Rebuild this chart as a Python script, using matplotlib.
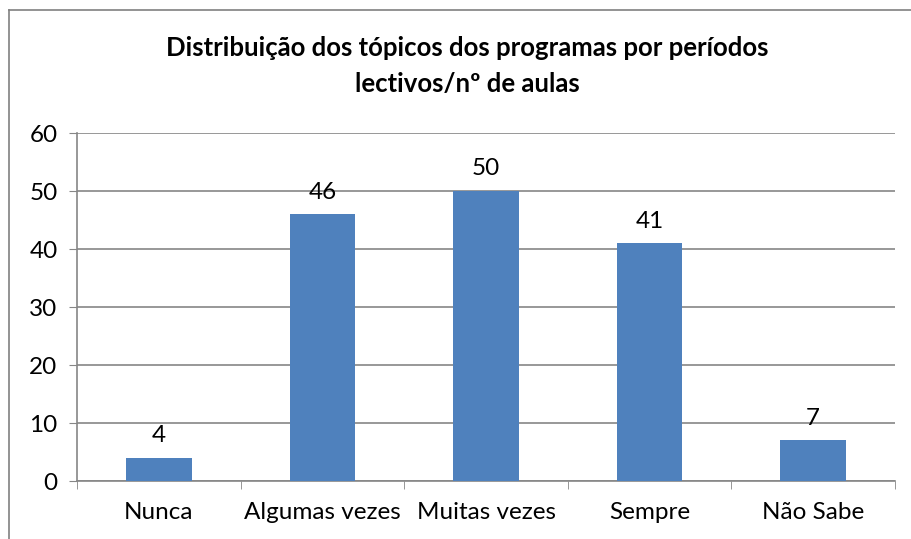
import matplotlib.pyplot as plt

categories = ['Nunca', 'Algumas vezes', 'Muitas vezes', 'Sempre', 'Não Sabe']
values = [4, 46, 50, 41, 7]
yticks = [0, 10, 20, 30, 40, 50, 60]
title = 'Distribuição dos tópicos dos programas por períodos\nlectivos/nº de aulas'

plt.rcParams['font.family'] = ['Lato', 'DejaVu Sans']
grey = '#868686'

fig = plt.figure(figsize=(9.11, 5.39), dpi=100)
ax = fig.add_axes([77 / 911, 1 - 481 / 539, (895 - 77) / 911, (481 - 133) / 539])

x = range(len(categories))
ax.bar(x, values, width=0.4, color='#4F81BD', zorder=3)
for xi, v in zip(x, values):
    ax.text(xi, v + 2.0, str(v), ha='center', va='bottom', fontsize=17.5)

ax.set_xlim(-0.5, len(categories) - 0.5)
ax.set_ylim(0, 60)
ax.set_yticks(yticks)
ax.set_xticks(x)
ax.set_xticklabels(categories)
ax.set_xticks([i + 0.5 for i in range(-1, len(categories))], minor=True)
ax.tick_params(axis='x', which='major', length=0, pad=15, labelsize=17.5)
ax.tick_params(axis='x', which='minor', length=6, color=grey, direction='out')
ax.tick_params(axis='y', length=6, color=grey, pad=8, labelsize=17.5)
ax.grid(axis='y', color=grey, linewidth=1.2, zorder=0)
for s in ['top', 'right']:
    ax.spines[s].set_visible(False)
for s in ['left', 'bottom']:
    ax.spines[s].set_color(grey)
    ax.spines[s].set_linewidth(1.2)

fig.text(467 / 911, 1 - 66 / 539, title, ha='center', va='center',
         fontsize=18.5, fontweight='bold', linespacing=1.6)

# frame around chart (left and top visible)
fig.add_artist(plt.Line2D([9 / 911, 9 / 911], [0, 1 - 10 / 539],
                          transform=fig.transFigure, color='#808080', linewidth=1.2))
fig.add_artist(plt.Line2D([9 / 911, 1], [1 - 10 / 539, 1 - 10 / 539],
                          transform=fig.transFigure, color='#808080', linewidth=1.2))

fig.savefig('out.png', dpi=100)
